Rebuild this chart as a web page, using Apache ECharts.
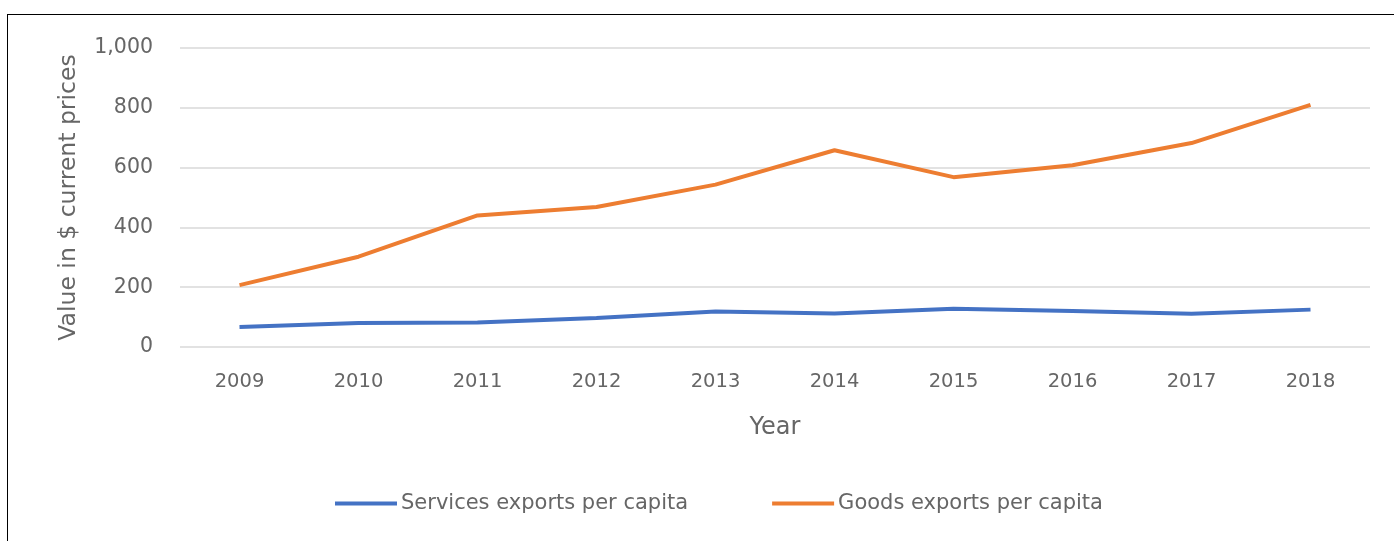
<!DOCTYPE html>
<html><head><meta charset="utf-8">
<script src="https://cdn.jsdelivr.net/npm/echarts@6/dist/echarts.min.js"></script>
<style>
html,body{margin:0;padding:0;background:#fff;}
#frame{position:absolute;left:7px;top:14px;width:1387px;height:527px;border-top:1px solid #000;border-left:1px solid #000;box-sizing:border-box;}
#c{position:absolute;left:0;top:0;width:1394px;height:541px;}
</style></head>
<body>
<div id="frame"></div>
<div id="c"></div>
<script>
const years = ['2009','2010','2011','2012','2013','2014','2015','2016','2017','2018'];
const services = [67, 80, 82, 97, 119, 112, 128, 120, 111, 125];
const goods = [207, 302, 440, 468, 543, 658, 568, 608, 682, 810];
const seriesNames = ['Services exports per capita', 'Goods exports per capita'];
const xName = 'Year';
const yName = 'Value in $ current prices';

const font = 'DejaVu Sans';
const txt = '#666666';
const chart = echarts.init(document.getElementById('c'));
chart.setOption({
  animation: false,
  color: ['#4472C4', '#ED7D31'],
  grid: {left: 180, right: 24, top: 48, bottom: 194},
  legend: {
    bottom: 22, left: 330, itemWidth: 62, itemHeight: 4, itemGap: 84,
    icon: 'rect',
    textStyle: {color: txt, fontFamily: font, fontSize: 21, padding: [0, 0, 0, -1]},
    data: seriesNames
  },
  xAxis: {
    type: 'category', data: years, boundaryGap: true,
    name: xName, nameLocation: 'middle', nameGap: 69,
    nameTextStyle: {color: txt, fontFamily: font, fontSize: 24},
    axisLine: {show: false}, axisTick: {show: false},
    axisLabel: {color: txt, fontFamily: font, fontSize: 19.5, margin: 25}
  },
  yAxis: {
    type: 'value', min: 0, max: 1000, interval: 200,
    name: yName, nameLocation: 'middle', nameGap: 99,
    nameTextStyle: {color: txt, fontFamily: font, fontSize: 23.5},
    axisLine: {show: false}, axisTick: {show: false},
    splitLine: {lineStyle: {color: '#d9d9d9', width: 1.5}},
    axisLabel: {color: txt, fontFamily: font, fontSize: 20.5, margin: 27,
      formatter: v => v.toLocaleString('en-US')}
  },
  series: [
    {name: seriesNames[0], type: 'line', data: services, showSymbol: false, symbol: 'none',
     lineStyle: {width: 4, color: '#4472C4'}},
    {name: seriesNames[1], type: 'line', data: goods, showSymbol: false, symbol: 'none',
     lineStyle: {width: 4, color: '#ED7D31'}}
  ]
});
</script>
</body></html>
